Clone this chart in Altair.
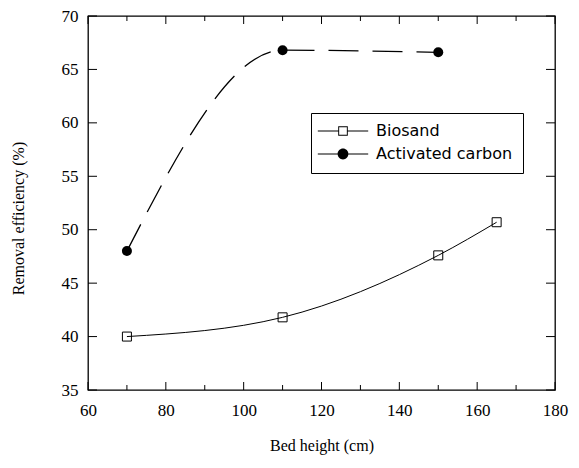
import altair as alt
import pandas as pd

# ---- data ----
series = ["Biosand", "Activated carbon"]
bio_x = [70, 110, 150, 165]
bio_y = [40.0, 41.8, 47.6, 50.7]
ac_x = [70, 110, 150]
ac_y = [48.0, 66.8, 66.6]
x_major = [60, 80, 100, 120, 140, 160, 180]
x_minor = [70, 90, 110, 130, 150, 170]
y_major = [35, 40, 45, 50, 55, 60, 65, 70]

W, H = 467, 374

bio = pd.DataFrame({"x": bio_x, "y": bio_y, "s": ["Biosand"] * len(bio_x)})
ac = pd.DataFrame({"x": ac_x, "y": ac_y, "s": ["Activated carbon"] * len(ac_x)})
both = pd.concat([bio, ac], ignore_index=True)
xmaj = pd.DataFrame({"x": x_major})
xmin = pd.DataFrame({"x": x_minor})
ymaj = pd.DataFrame({"y": y_major})

SERIF = "'Liberation Serif', 'Times New Roman', 'DejaVu Serif', serif"
xs = alt.Scale(domain=[60, 180], nice=False, zero=False)
ys = alt.Scale(domain=[35, 70], nice=False, zero=False)
x_axis = alt.Axis(values=x_major, ticks=False, domain=False, grid=False,
                  title="Bed height (cm)", labelPadding=12, titlePadding=19,
                  labelFlush=False, labelFont=SERIF, labelFontSize=17,
                  titleFont=SERIF, titleFontSize=16)
y_axis = alt.Axis(values=y_major, ticks=False, domain=False, grid=False,
                  title="Removal efficiency (%)", labelPadding=10,
                  labelFont=SERIF, labelFontSize=17,
                  titleFont=SERIF, titleFontSize=16,
                  titleX=-62, titleY=202)

def X():
    return alt.X("x:Q", scale=xs, axis=x_axis)

def Y():
    return alt.Y("y:Q", scale=ys, axis=y_axis)

bio_line = alt.Chart(bio).mark_line(interpolate="monotone", color="black",
                                    strokeWidth=1).encode(x=X(), y=Y())
ac_line = alt.Chart(ac).mark_line(interpolate="monotone", color="black",
                                  strokeWidth=1.3, strokeDash=[30, 14]).encode(x=X(), y=Y())
bio_pts = alt.Chart(bio).mark_point(shape="square", filled=False, color="black",
                                    size=81, strokeWidth=1, opacity=1).encode(x=X(), y=Y())
ac_pts = alt.Chart(ac).mark_point(shape="circle", filled=True, color="black",
                                  size=100, opacity=1).encode(x=X(), y=Y())

# legend symbols: line stub + marker, drawn as filled shapes
sq_path = ("M-4.2,-0.09H-0.8V0.09H-4.2Z"
           "M0.8,-0.09H4.2V0.09H0.8Z"
           "M-0.8,-0.8H0.8V0.8H-0.8Z"
           "M-0.64,-0.64V0.64H0.64V-0.64Z")
ci_path = ("M-4.2,-0.09H-0.9V0.09H-4.2Z"
           "M0.9,-0.09H4.2V0.09H0.9Z"
           "M-0.9,0A0.9,0.9 0 1,1 0.9,0A0.9,0.9 0 1,1 -0.9,0Z")
leg = alt.Legend(orient="none", legendX=223, legendY=97, title=None,
                 strokeColor="black", fillColor="white", padding=10,
                 symbolSize=144, symbolOffset=14, labelOffset=25,
                 labelFont="DejaVu Sans", labelFontSize=16, labelColor="black",
                 rowPadding=6, symbolFillColor="black")
legend_layer = alt.Chart(both).transform_filter(alt.datum.x < 0).mark_point(
    filled=True, fill="black", opacity=1).encode(
    x=X(), y=Y(),
    shape=alt.Shape("s:N", scale=alt.Scale(domain=series, range=[sq_path, ci_path]), legend=leg),
)

# inward ticks on all four sides
def xticks(df, length):
    bot = alt.Chart(df).mark_rule(color="black", strokeWidth=1).encode(
        x=X(), y=alt.value(H), y2=alt.value(H - length))
    top = alt.Chart(df).mark_rule(color="black", strokeWidth=1).encode(
        x=X(), y=alt.value(0), y2=alt.value(length))
    return [bot, top]

yl = alt.Chart(ymaj).mark_rule(color="black", strokeWidth=1).encode(
    y=Y(), x=alt.value(0), x2=alt.value(9))
yr = alt.Chart(ymaj).mark_rule(color="black", strokeWidth=1).encode(
    y=Y(), x=alt.value(W), x2=alt.value(W - 9))

chart = alt.layer(
    bio_line, ac_line, bio_pts, ac_pts, legend_layer,
    *xticks(xmaj, 8), *xticks(xmin, 5), yl, yr,
).properties(
    width=W, height=H,
    autosize=alt.AutoSizeParams(type="none"),
    padding={"left": 80, "top": 8, "right": 16, "bottom": 70},
    background="white",
).configure_view(
    stroke="black", strokeWidth=1.3
).configure_axis(
    labelColor="black", titleColor="black", titleFontWeight="normal",
)

chart.save("out.html", embed_options={"renderer": "svg", "actions": False})
